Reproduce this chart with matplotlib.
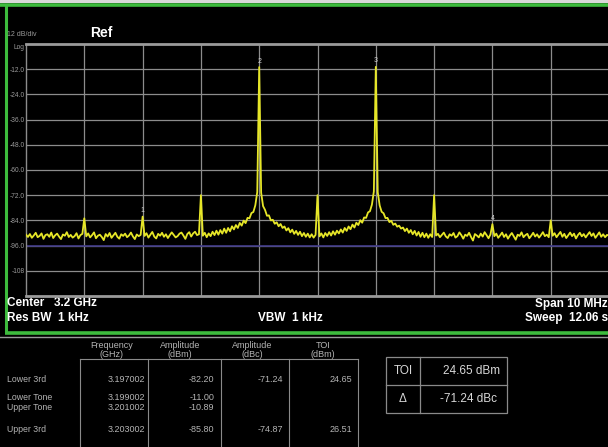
import numpy as np
import matplotlib
matplotlib.use("Agg")
import matplotlib.pyplot as plt

# ---------------- data ----------------
center_ghz = 3.2
span_mhz = 10.0
ref_db = 0.0
db_per_div = 12.0
y_tick_labels = ["Log", "-12.0", "-24.0", "-36.0", "-48.0", "-60.0", "-72.0", "-84.0", "-96.0", "-108"]

# trace (dBm), 301 points across the 10 MHz span
trace_db = [
    # 3.195 - 3.196
    -90.8, -91.9, -90.5, -92.3, -91.2, -89.9, -92.0, -91.4, -90.2, -92.8,
    -91.0, -90.6, -91.8, -89.8, -92.4, -91.1, -90.3, -91.7, -92.9, -90.7,
    -91.3, -89.6, -91.9, -90.9, -92.2, -91.5, -90.1, -92.6, -91.0, -90.4,
    -83.0,
    -91.6, -90.2, -92.1, -91.0, -89.7, -92.5, -91.3, -90.8, -91.9, -93.4,
    -90.5, -91.7, -90.0, -92.3, -91.1, -89.9, -91.8, -92.7, -90.6, -91.4,
    -90.3, -92.0, -91.2, -89.8, -91.6, -92.9, -90.7, -91.5, -90.9,
    -82.2,
    -91.4, -90.1, -92.2, -90.8, -89.5, -91.7, -92.6, -90.4, -91.3, -89.9,
    -91.8, -90.6, -92.4, -91.0, -89.7, -90.9, -92.1, -91.5, -90.3, -89.8,
    -91.2, -92.8, -90.5, -89.6, -91.7, -90.2, -89.4, -91.0, -90.6,
    -72.0,
    -91.3, -89.9, -92.0, -90.2, -91.5, -89.4, -91.0, -88.9, -90.8, -88.6,
    -90.3, -87.9, -89.9, -87.6, -89.2, -86.8, -88.3, -86.2, -87.6, -85.2,
    -86.5, -84.1, -85.3, -82.8, -83.0, -80.5, -80.0, -76.8, -70.5,
    -11.00,
    -70.8, -77.2, -79.0, -81.8, -81.6, -84.0, -83.7, -85.6, -84.9, -86.8,
    -85.7, -87.6, -86.9, -88.8, -87.7, -89.7, -88.4, -90.4, -89.0, -90.9,
    -89.4, -91.5, -90.0, -91.8, -90.3, -92.1, -90.6, -92.2, -90.9,
    -72.0,
    -91.6, -90.2, -92.1, -90.0, -91.4, -89.6, -91.2, -89.2, -90.8, -88.9,
    -90.2, -88.3, -89.8, -87.6, -89.0, -86.9, -88.2, -86.0, -87.4, -85.1,
    -86.2, -83.9, -85.1, -82.6, -82.8, -80.2, -79.6, -76.5, -70.2,
    -10.89,
    -70.6, -76.9, -79.9, -80.6, -82.9, -82.8, -84.8, -84.2, -86.1, -85.5,
    -87.0, -86.5, -87.9, -87.4, -89.1, -87.9, -89.9, -88.6, -90.6, -89.0,
    -91.2, -89.5, -91.8, -89.9, -92.0, -90.3, -92.3, -90.6, -91.9,
    -72.0,
    -91.2, -90.4, -92.0, -90.9, -89.8, -91.6, -92.4, -90.6, -91.3, -90.0,
    -92.2, -91.5, -89.7, -91.0, -92.7, -90.8, -91.4, -89.9, -91.9, -93.6,
    -90.5, -91.2, -92.1, -90.3, -91.7, -89.6, -91.0, -92.5, -90.7,
    -85.8,
    -91.5, -90.3, -92.3, -91.1, -89.8, -91.9, -90.6, -92.7, -91.2, -90.0,
    -91.6, -93.2, -90.8, -91.4, -89.7, -92.0, -91.0, -90.4, -92.5, -91.3,
    -89.9, -91.7, -90.6, -92.2, -91.0, -89.6, -91.5, -90.8, -92.0,
    -84.0,
    -91.3, -90.1, -92.0, -90.7, -89.5, -91.8, -90.4, -92.4, -91.1, -89.8,
    -91.5, -90.3, -92.6, -91.0, -89.9, -91.6, -90.5, -92.1, -90.8, -89.6,
    -91.4, -90.2, -92.3, -91.0, -89.7, -91.8, -90.6, -92.0, -90.9, -91.3,
]
assert len(trace_db) == 301, len(trace_db)

display_line_db = -96.0

# marker / table data
marker_labels = ["1", "2", "3", "4"]
row_labels = ["Lower 3rd", "Lower Tone", "Upper Tone", "Upper 3rd"]
freq_ghz = [3.197002, 3.199002, 3.201002, 3.203002]
amp_dbm = [-82.20, -11.00, -10.89, -85.80]
amp_dbc = [-71.24, None, None, -74.87]
toi_dbm = [24.65, None, None, 26.51]
col_headers = ["Frequency\n(GHz)", "Amplitude\n(dBm)", "Amplitude\n(dBc)", "TOI\n(dBm)"]
toi_result = 24.65
delta_result = -71.24

# ---------------- figure ----------------
W, H = 608, 447
fig = plt.figure(figsize=(W / 100, H / 100), dpi=100, facecolor="black")
FONT = ["Liberation Sans", "DejaVu Sans"]

bg = fig.add_axes([0, 0, 1, 1])
bg.set_xlim(0, W)
bg.set_ylim(H, 0)
bg.axis("off")
bg.set_zorder(0)
bg.set_facecolor("black")

green = "#3dbb3d"
# frame lines
bg.add_patch(plt.Rectangle((0, 0), W, 3, color="#d8d8d8", lw=0))
bg.plot([0, W], [5, 5], color=green, lw=2.6, solid_capstyle="butt")
bg.plot([6, 6], [4, 333], color=green, lw=2.2, solid_capstyle="butt")
bg.plot([5, W], [332.5, 332.5], color=green, lw=2.6, solid_capstyle="butt")
bg.plot([0, W], [336.5, 336.5], color="#9a9a9a", lw=1.0)

# header texts
bg.text(7, 34, "12 dB/div", color="#9a9a9a", fontsize=5, family=FONT, va="center", ha="left")
bg.text(90, 33, "Ref", color="white", fontsize=10, family=FONT, fontweight="bold", va="center", ha="left")

# bottom annotation texts
bbold = dict(color="white", fontsize=8.5, family=FONT, fontweight="bold", va="center")
bg.text(7, 303.5, "Center   3.2 GHz", ha="left", **bbold)
bg.text(7, 318, "Res BW  1 kHz", ha="left", **bbold)
bg.text(258, 318, "VBW  1 kHz", ha="left", **bbold)
bg.text(608, 303.5, "Span 10 MHz", ha="right", **bbold)
bg.text(608, 318, "Sweep  12.06 s", ha="right", **bbold)

# ---------------- spectrum axes ----------------
x0, x1, ytop, ybot = 26, 609, 44, 296
ax = fig.add_axes([x0 / W, 1 - ybot / H, (x1 - x0) / W, (ybot - ytop) / H])
ax.set_zorder(1)
ax.set_facecolor("black")

f_start = center_ghz - span_mhz / 2000
f_stop = center_ghz + span_mhz / 2000
freqs = np.linspace(f_start, f_stop, len(trace_db))
ax.set_xlim(f_start, f_stop)
ax.set_ylim(ref_db - 10 * db_per_div, ref_db)

grid_c = "#8c8c8c"
for k in range(1, 10):
    ax.axvline(f_start + k * (f_stop - f_start) / 10, color=grid_c, lw=0.9, zorder=1)
for k in range(1, 10):
    ax.axhline(ref_db - k * db_per_div, color=grid_c, lw=0.9, zorder=1)
ax.axhline(display_line_db, color="#403a88", lw=1.2, zorder=1.5)

ax.plot(freqs, trace_db, color="#e6e628", lw=1.3, zorder=3)

for lab, f, a in zip(marker_labels, freq_ghz, amp_dbm):
    ax.text(round(f, 3), a + 1.2, lab, color="#d0d0d0", fontsize=5, family=FONT,
            ha="center", va="bottom", zorder=4)

for s in ["left", "right"]:
    ax.spines[s].set_color(grid_c)
    ax.spines[s].set_linewidth(1.0)
for s in ["top", "bottom"]:
    ax.spines[s].set_color("#9a9a9a")
    ax.spines[s].set_linewidth(2.0)
ax.set_xticks([])
ax.set_yticks(ref_db - np.arange(10) * db_per_div)
ax.set_yticklabels(y_tick_labels)
ax.tick_params(axis="y", length=0, pad=1, labelsize=4.8, labelcolor="#9a9a9a")
for t in ax.get_yticklabels():
    t.set_family(FONT)
ax.get_yticklabels()[0].set_va("top")

# ---------------- results table ----------------
tcol = "#b4b4b4"
line_c = "#8a8a8a"
col_lines = [80, 148, 221, 289, 358]
table_top = 359
for xl in col_lines:
    bg.plot([xl, xl], [table_top, H + 2], color=line_c, lw=0.8)
bg.plot([col_lines[0], col_lines[-1]], [table_top, table_top], color=line_c, lw=0.8)

header_x = [112, 180, 252, 323]
for hx, htxt in zip(header_x, col_headers):
    bg.text(hx, 350, htxt, color=tcol, fontsize=6.5, family=FONT, ha="center", va="center",
            linespacing=1.1)

row_y = [379, 397, 408, 430]
value_right = [145, 214, 283, 352]
for ry, lab, fr, am, dbc, toi in zip(row_y, row_labels, freq_ghz, amp_dbm, amp_dbc, toi_dbm):
    bg.text(7, ry, lab, color=tcol, fontsize=6.3, family=FONT, ha="left", va="center")
    vals = [f"{fr:.6f}", f"{am:.2f}",
            "" if dbc is None else f"{dbc:.2f}",
            "" if toi is None else f"{toi:.2f}"]
    for vx, v in zip(value_right, vals):
        bg.text(vx, ry, v, color=tcol, fontsize=6.5, family=FONT, ha="right", va="center")

# TOI summary box
bx0, bx1, bxm, by0, by1, bym = 386, 507, 420, 357, 413, 385
bg.add_patch(plt.Rectangle((bx0, by0), bx1 - bx0, by1 - by0, fill=False, ec=line_c, lw=0.9))
bg.plot([bxm, bxm], [by0, by1], color=line_c, lw=0.9)
bg.plot([bx0, bx1], [bym, bym], color=line_c, lw=0.9)
box_t = dict(color="#d8d8d8", fontsize=8.5, family=FONT, va="center")
bg.text((bx0 + bxm) / 2, (by0 + bym) / 2, "TOI", ha="center", **box_t)
bg.text((bx0 + bxm) / 2, (bym + by1) / 2, "Δ", ha="center", **box_t)
bg.text(500, (by0 + bym) / 2, f"{toi_result:.2f} dBm", ha="right", **box_t)
bg.text(497, (bym + by1) / 2, f"{delta_result:.2f} dBc", ha="right", **box_t)

fig.savefig("out.png", dpi=100, facecolor="black")
